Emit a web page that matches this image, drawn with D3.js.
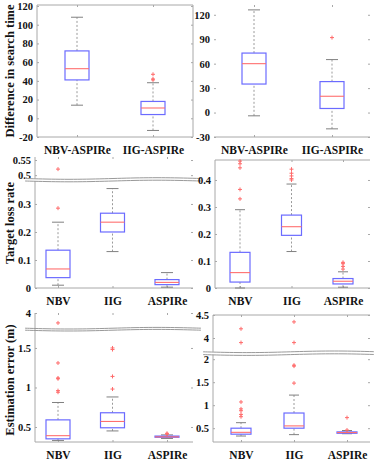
<!DOCTYPE html>
<html>
<head>
<meta charset="utf-8">
<script src="https://cdn.jsdelivr.net/npm/d3@7"></script>
<style>
  body { margin: 0; background: #fff; }
  text { font-family: "Liberation Serif", "Times New Roman", serif; font-weight: bold; fill: #111; }
</style>
</head>
<body>
<div id="chart"></div>
<script>
// categories
var catsDiff = ["NBV-ASPIRe", "IIG-ASPIRe"];
var catsMethod = ["NBV", "IIG", "ASPIRe"];

// box stats: [lower whisker, q1, median, q3, upper whisker]
var diffLeft = [[14, 41, 53, 72, 108], [-13, 4, 11, 18, 38]];
var diffLeftOut = [[], [41, 42, 47]];
var diffRight = [[-4, 35, 60, 73, 126], [-20, 5, 20, 38, 65]];
var diffRightOut = [[], [92]];

var lossLeft = [[0.01, 0.037, 0.068, 0.135, 0.235], [0.13, 0.2, 0.235, 0.267, 0.355], [0.003, 0.012, 0.02, 0.03, 0.055]];
var lossLeftOut = [[0.285, 0.52], [], []];
var lossRight = [[0, 0.022, 0.057, 0.132, 0.29], [0.135, 0.195, 0.227, 0.27, 0.385], [0.003, 0.015, 0.025, 0.035, 0.06]];
var lossRightOut = [[0.33, 0.365, 0.445, 0.46, 0.47], [0.4, 0.405, 0.415, 0.425, 0.44], [0.07, 0.08, 0.09, 0.095]];

var errLeft = [[0.33, 0.35, 0.39, 0.59, 0.81], [0.45, 0.49, 0.57, 0.68, 0.88], [0.355, 0.37, 0.375, 0.385, 0.4]];
var errLeftOut = [[0.94, 0.96, 1.11, 1.12, 1.31, 3.85], [0.98, 1.14, 1.48, 1.5], [0.41, 0.42]];
var errRight = [[0.33, 0.37, 0.41, 0.5, 0.62], [0.36, 0.5, 0.55, 0.83, 1.22], [0.38, 0.39, 0.405, 0.42, 0.45]];
var errRightOut = [[0.75, 0.8, 0.88, 0.92, 1.07, 3.9, 4.2], [1.48, 1.85, 1.87, 3.9, 4.35], [0.46, 0.73]];

// tick labels
var diffLeftTicks = [-20, 0, 20, 40, 60, 80, 100, 120];
var diffRightTicks = [-30, 0, 30, 60, 90, 120];
var lossLeftLow = [0, 0.1, 0.2, 0.3], lossLeftHigh = [0.5, 0.55];
var lossRightTicks = [0, 0.1, 0.2, 0.3, 0.4];
var errLeftLow = [0.5, 1, 1.5], errLeftHigh = [4];
var errRightLow = [0.5, 1, 1.5, 2], errRightHigh = [4, 4.5];

var W = 374, H = 461;
var svg = d3.select("#chart").append("svg").attr("width", W).attr("height", H);

var boxCol = "#6b6bff", medCol = "#ff6f6f", frameCol = "#a8a8a8";

function drawPanel(p) {
  var g = svg.append("g");
  var x = d3.scalePoint().domain(p.cats).range(p.xr);
  var segs = p.segs.map(function (s) {
    return { sc: d3.scaleLinear().domain(s.dom).range(s.rng), ticks: s.ticks, dom: s.dom };
  });
  function y(v) {
    for (var i = segs.length - 1; i >= 0; i--) {
      if (v >= segs[i].dom[0] || i == 0) return segs[i].sc(v);
    }
  }

  // frame lines
  var fl = { l: [p.x0, p.top, p.x0, p.bottom], r: [p.x1, p.top, p.x1, p.bottom],
             t: [p.x0, p.top, p.x1, p.top], b: [p.x0, p.bottom, p.x1, p.bottom] };
  p.frame.split("").forEach(function (k) {
    var c = fl[k];
    g.append("line").attr("x1", c[0]).attr("y1", c[1]).attr("x2", c[2]).attr("y2", c[3])
      .attr("stroke", frameCol).attr("stroke-width", 1);
  });

  // y axes per segment
  segs.forEach(function (s) {
    var ax = g.append("g").attr("transform", "translate(" + p.x0 + ",0)")
      .call(d3.axisLeft(s.sc).tickValues(s.ticks).tickSize(-2).tickPadding(4).tickFormat(function (d) { return String(d); }));
    ax.select(".domain").remove();
    ax.selectAll("line").attr("stroke", frameCol);
    ax.selectAll("text").style("font-size", "10.5px").attr("fill", "#111");
    var axr = g.append("g").attr("transform", "translate(" + p.x1 + ",0)")
      .call(d3.axisRight(s.sc).tickValues(s.ticks).tickSize(-2).tickFormat(""));
    axr.select(".domain").remove();
    axr.selectAll("line").attr("stroke", frameCol);
  });

  // x axis
  var xa = g.append("g").attr("transform", "translate(0," + p.bottom + ")")
    .call(d3.axisBottom(x).tickSize(-2).tickPadding(9));
  xa.select(".domain").remove();
  xa.selectAll("line").attr("stroke", frameCol);
  xa.selectAll("text").style("font-size", "11.5px").attr("fill", "#111");
  var xt = g.append("g").attr("transform", "translate(0," + p.top + ")")
    .call(d3.axisTop(x).tickSize(-2).tickFormat(""));
  xt.select(".domain").remove();
  xt.selectAll("line").attr("stroke", frameCol);

  // boxes
  var hw = p.bw / 2;
  p.stats.forEach(function (st, i) {
    var cx = x(p.cats[i]);
    var bg = g.append("g");
    bg.append("line").attr("x1", cx).attr("x2", cx).attr("y1", y(st[3])).attr("y2", y(st[4]))
      .attr("stroke", "#9a9a9a").attr("stroke-dasharray", "2,2");
    bg.append("line").attr("x1", cx).attr("x2", cx).attr("y1", y(st[0])).attr("y2", y(st[1]))
      .attr("stroke", "#9a9a9a").attr("stroke-dasharray", "2,2");
    [st[0], st[4]].forEach(function (v) {
      bg.append("line").attr("x1", cx - hw / 2).attr("x2", cx + hw / 2).attr("y1", y(v)).attr("y2", y(v))
        .attr("stroke", "#808080").attr("stroke-width", 1);
    });
    bg.append("rect").attr("x", cx - hw).attr("width", p.bw)
      .attr("y", y(st[3])).attr("height", Math.max(1, y(st[1]) - y(st[3])))
      .attr("fill", "none").attr("stroke", boxCol).attr("stroke-width", 1.2);
    bg.append("line").attr("x1", cx - hw).attr("x2", cx + hw).attr("y1", y(st[2])).attr("y2", y(st[2]))
      .attr("stroke", medCol).attr("stroke-width", 1.1);
    p.out[i].forEach(function (v) {
      bg.append("path").attr("d", "M" + (cx - 2) + "," + y(v) + "h4M" + cx + "," + (y(v) - 2) + "v4")
        .attr("stroke", "#ff6a6a").attr("stroke-width", 1);
    });
  });

  // axis break
  if (segs.length > 1) {
    var yl = segs[0].sc.range()[1], yu = segs[1].sc.range()[0];
    var bx0 = p.x0 - 10, bx1 = p.x1 + 8;
    g.append("rect").attr("x", bx0).attr("width", bx1 - bx0).attr("y", yu).attr("height", yl - yu).attr("fill", "#fff");
    var pts = d3.range(0, 41).map(function (k) { return bx0 + (bx1 - bx0) * k / 40; });
    [yu, yl].forEach(function (yy) {
      var wave = d3.line().x(function (d) { return d; })
        .y(function (d) { return yy + 0.8 * Math.sin((d - bx0) / (bx1 - bx0) * Math.PI * 2); })
        .curve(d3.curveBasis);
      g.append("path").attr("d", wave(pts)).attr("fill", "none").attr("stroke", "#9a9a9a").attr("stroke-width", 1);
    });
  }
}

drawPanel({ cats: catsDiff, xr: [77, 153], x0: 37, x1: 193, top: 5, bottom: 137, bw: 24, frame: "lrtb",
  segs: [{ dom: [-20, 120], rng: [137, 6], ticks: diffLeftTicks }], stats: diffLeft, out: diffLeftOut });
drawPanel({ cats: catsDiff, xr: [254, 332], x0: 214, x1: 370, top: 5, bottom: 137, bw: 24, frame: "b",
  segs: [{ dom: [-30, 132], rng: [137, 5], ticks: diffRightTicks }], stats: diffRight, out: diffRightOut });

drawPanel({ cats: catsMethod, xr: [58, 167], x0: 35, x1: 193, top: 157, bottom: 288, bw: 24, frame: "lb",
  segs: [{ dom: [0, 0.382], rng: [288, 181], ticks: lossLeftLow },
         { dom: [0.489, 0.56], rng: [178.5, 157], ticks: lossLeftHigh }], stats: lossLeft, out: lossLeftOut });
drawPanel({ cats: catsMethod, xr: [240, 343], x0: 215, x1: 370, top: 160, bottom: 288, bw: 20, frame: "ltb",
  segs: [{ dom: [0, 0.474], rng: [288, 160], ticks: lossRightTicks }], stats: lossRight, out: lossRightOut });

drawPanel({ cats: catsMethod, xr: [58, 167], x0: 35, x1: 193, top: 313, bottom: 442, bw: 24, frame: "lb",
  segs: [{ dom: [0.31, 1.75], rng: [442, 328.2], ticks: errLeftLow },
         { dom: [3.74, 4.0], rng: [330.2, 313], ticks: errLeftHigh }], stats: errLeft, out: errLeftOut });
drawPanel({ cats: catsMethod, xr: [241, 347], x0: 213, x1: 370, top: 315, bottom: 442, bw: 20, frame: "ltb",
  segs: [{ dom: [0.2, 2.1], rng: [442, 354.6], ticks: errRightLow },
         { dom: [3.7, 4.5], rng: [351.8, 315], ticks: errRightHigh }], stats: errRight, out: errRightOut });

// y titles
[["Difference in search time", 71], ["Target loss rate", 223], ["Estimation error (m)", 380]].forEach(function (t) {
  svg.append("text").attr("transform", "translate(14," + t[1] + ") rotate(-90)")
    .attr("text-anchor", "middle").style("font-size", "12.5px").text(t[0]);
});
</script>
</body>
</html>
